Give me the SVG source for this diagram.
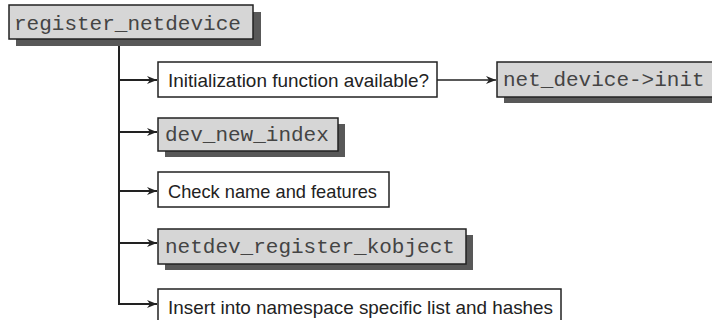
<svg xmlns="http://www.w3.org/2000/svg" width="712" height="320" viewBox="0 0 712 320">
<defs>
<style>
.bg{fill:#ffffff}
.shadow{fill:#585858}
.code{fill:#d6d6d6;stroke:#222;stroke-width:1.5}
.plain{fill:#ffffff;stroke:#222;stroke-width:1.5}
.mono{font-family:"Liberation Mono","Courier New",monospace;font-size:21px;fill:#444}
.sans{font-family:"Liberation Sans",Arial,sans-serif;font-size:19px;fill:#222}
.conn{fill:none;stroke:#222;stroke-width:2}
.thin{fill:none;stroke:#222;stroke-width:1.3}
</style>
<marker id="arr" viewBox="0 0 10 8" refX="10" refY="4" markerWidth="10" markerHeight="8" markerUnits="userSpaceOnUse" orient="auto">
<path d="M0,0 L10,4 L0,8 L3,4 z" fill="#222"/>
</marker>
</defs>
<rect class="bg" x="0" y="0" width="712" height="320"/>

<g id="connectors">
<path class="conn" d="M119,40 V304 H157" marker-end="url(#arr)" stroke-width="2.5"/>
<path class="conn" d="M119,80 H157" marker-end="url(#arr)"/>
<path class="conn" d="M119,132 H157" marker-end="url(#arr)"/>
<path class="conn" d="M119,191 H157" marker-end="url(#arr)"/>
<path class="conn" d="M119,243 H157" marker-end="url(#arr)"/>
<path class="thin" d="M437,80 H496" marker-end="url(#arr)"/>
</g>

<g id="register_netdevice">
<rect class="shadow" x="16" y="12" width="245" height="34"/>
<rect class="code" x="9" y="5" width="244" height="34"/>
<text class="mono" x="14" y="30">register_netdevice</text>
</g>

<g id="init_check">
<rect class="plain" x="158" y="62" width="279" height="35"/>
<text class="sans" x="168" y="87" textLength="261" lengthAdjust="spacingAndGlyphs">Initialization function available?</text>
</g>

<g id="net_device_init">
<rect class="shadow" x="504" y="69" width="220" height="34"/>
<rect class="code" x="497" y="62" width="222" height="35"/>
<text class="mono" x="503" y="86">net_device-&gt;init</text>
</g>

<g id="dev_new_index">
<rect class="shadow" x="165" y="124" width="180" height="33"/>
<rect class="code" x="158" y="118" width="180" height="33"/>
<text class="mono" x="165" y="141">dev_new_index</text>
</g>

<g id="check_name">
<rect class="plain" x="158" y="172" width="231" height="35"/>
<text class="sans" x="168" y="198" textLength="209" lengthAdjust="spacingAndGlyphs">Check name and features</text>
</g>

<g id="netdev_register_kobject">
<rect class="shadow" x="165" y="235" width="308" height="35"/>
<rect class="code" x="158" y="229" width="308" height="35"/>
<text class="mono" x="165" y="253">netdev_register_kobject</text>
</g>

<g id="insert_namespace">
<rect class="plain" x="158" y="289" width="403" height="36"/>
<text class="sans" x="168" y="314" textLength="385" lengthAdjust="spacingAndGlyphs">Insert into namespace specific list and hashes</text>
</g>
</svg>
